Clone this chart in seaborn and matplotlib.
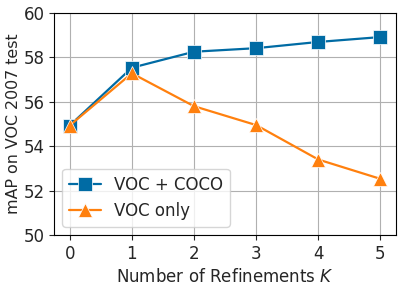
import pandas as pd
import matplotlib
matplotlib.use("Agg")
import matplotlib.pyplot as plt
import seaborn as sns

# 数据
refinements = [0, 1, 2, 3, 4, 5]
voc_coco = [54.93, 57.53, 58.25, 58.41, 58.69, 58.91]
voc_only = [54.93, 57.28, 55.80, 54.95, 53.40, 52.53]
series_names = ["VOC + COCO", "VOC only"]

df = pd.DataFrame({
    "K": refinements * 2,
    "mAP": voc_coco + voc_only,
    "series": [series_names[0]] * 6 + [series_names[1]] * 6,
})

sns.set_style("ticks")
plt.rcParams['font.family'] = ['DejaVu Sans']

fig, ax = plt.subplots(figsize=(4.07, 2.85), dpi=100)
sns.lineplot(data=df, x="K", y="mAP", hue="series", style="series",
             markers={"VOC + COCO": "s", "VOC only": "^"}, dashes=False,
             palette={"VOC + COCO": "#006BA4", "VOC only": "#FF800E"},
             markersize=10.5, linewidth=1.6, markeredgewidth=0.5,
             markeredgecolor="white", ax=ax)

ax.set_xlim(-0.25, 5.25)
ax.set_ylim(50, 60)
ax.set_xticks(refinements)
ax.set_yticks([50, 52, 54, 56, 58, 60])
ax.grid(True, color="#b0b0b0", linewidth=0.8)
ax.tick_params(labelsize=12)
ax.set_xlabel("Number of Refinements $K$", fontsize=12)
ax.set_ylabel("mAP on VOC 2007 test", fontsize=11.4, labelpad=2)
for s in ax.spines.values():
    s.set_color("black")

ax.legend(loc="lower left", fontsize=12, title=None, frameon=True,
          handlelength=1.9, borderaxespad=0.5)

fig.subplots_adjust(left=0.133, right=0.973, top=0.955, bottom=0.175)
fig.savefig("out.png", dpi=100)
